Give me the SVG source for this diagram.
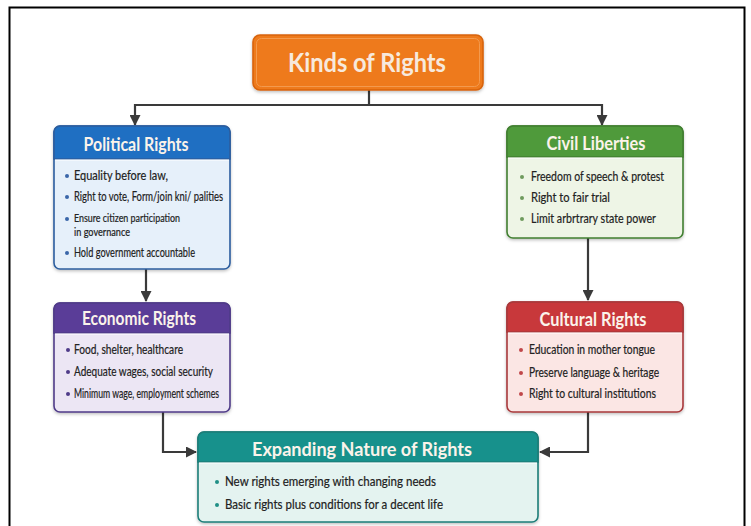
<svg xmlns="http://www.w3.org/2000/svg" width="751" height="526" viewBox="0 0 751 526">
<defs>
<marker id="ah" markerUnits="userSpaceOnUse" markerWidth="11" markerHeight="11" refX="10" refY="5.5" orient="auto">
<path d="M0,0 L11,5.5 L0,11 z" fill="#3a3a3a"/>
</marker>
<filter id="sh" x="-10%" y="-10%" width="120%" height="130%">
<feDropShadow dx="0" dy="1.5" stdDeviation="1.5" flood-color="#000" flood-opacity="0.25"/>
</filter>
<style>
.hd{font-family:Lato,"Open Sans",sans-serif;font-weight:bold;font-size:18px;fill:#fbf3ea;text-anchor:middle}
.it{font-family:Lato,"Open Sans",sans-serif;font-size:12.5px;fill:#222222;stroke:#222222;stroke-width:0.2}
.sm{font-size:10.5px}
.cn{fill:none;stroke:#3a3a3a;stroke-width:2.2}
</style>
</defs>
<rect x="0" y="0" width="751" height="526" fill="#ffffff"/>
<rect x="9.5" y="7.5" width="735" height="540" fill="#ffffff" stroke="#000" stroke-width="2"/>

<g id="connectors">
<path class="cn" d="M369,90 V105"/>
<path class="cn" d="M135,105 H602"/>
<path class="cn" d="M135,104 V125" marker-end="url(#ah)"/>
<path class="cn" d="M602,104 V125" marker-end="url(#ah)"/>
<path class="cn" d="M146,269 V301" marker-end="url(#ah)"/>
<path class="cn" d="M588,238 V300" marker-end="url(#ah)"/>
<path class="cn" d="M163,412 V452 H196" marker-end="url(#ah)"/>
<path class="cn" d="M588,412 V452 H540" marker-end="url(#ah)"/>
</g>

<g id="title">
<rect x="253" y="35" width="230" height="55" rx="7" fill="#ee7a1c" stroke="#d7630d" stroke-width="1.6" filter="url(#sh)"/>
<rect x="256.5" y="38.5" width="223" height="48" rx="5" fill="none" stroke="#f39a4e" stroke-width="1"/>
<text x="367" y="72" font-family="Lato,'Open Sans',sans-serif" font-weight="bold" font-size="27" fill="#f7e9dc" text-anchor="middle" textLength="158" lengthAdjust="spacingAndGlyphs">Kinds of Rights</text>
</g>

<g id="political">
<rect x="54" y="126" width="176" height="143" rx="6" fill="#e6f0fa" stroke="#2c5d9e" stroke-width="1.6" filter="url(#sh)"/>
<path d="M54,159 V132 a6,6 0 0 1 6,-6 H224 a6,6 0 0 1 6,6 V159 z" fill="#1f6fc2" stroke="#2c5d9e" stroke-width="1.6"/>
<line x1="55" y1="160" x2="229" y2="160" stroke="#ffffff" stroke-width="1"/>
<text class="hd" x="136" y="151" textLength="105" lengthAdjust="spacingAndGlyphs">Political Rights</text>
<g fill="#3a66a8">
<circle cx="67" cy="176" r="2"/><circle cx="67" cy="197" r="2"/><circle cx="67" cy="219" r="2"/><circle cx="67" cy="253" r="2"/>
</g>
<text class="it" x="74" y="180" textLength="94" lengthAdjust="spacingAndGlyphs">Equality before law,</text>
<text class="it" x="74" y="201" textLength="149" lengthAdjust="spacingAndGlyphs">Right to vote, Form/join kni/ palities</text>
<text class="it sm" x="74" y="222" textLength="106" lengthAdjust="spacingAndGlyphs">Ensure citizen participation</text>
<text class="it sm" x="74" y="236" textLength="56" lengthAdjust="spacingAndGlyphs">in governance</text>
<text class="it" x="74" y="257" textLength="121" lengthAdjust="spacingAndGlyphs">Hold government accountable</text>
</g>

<g id="economic">
<rect x="54" y="303" width="176" height="109" rx="6" fill="#ece6f4" stroke="#4f3b88" stroke-width="1.6" filter="url(#sh)"/>
<path d="M54,333 V309 a6,6 0 0 1 6,-6 H224 a6,6 0 0 1 6,6 V333 z" fill="#5a3d98" stroke="#4f3b88" stroke-width="1.6"/>
<line x1="55" y1="334" x2="229" y2="334" stroke="#ffffff" stroke-width="1"/>
<text class="hd" x="139" y="325" textLength="114" lengthAdjust="spacingAndGlyphs">Economic Rights</text>
<g fill="#4f3b88">
<circle cx="68" cy="350" r="2"/><circle cx="68" cy="372" r="2"/><circle cx="68" cy="394" r="2"/>
</g>
<text class="it" x="74" y="354" textLength="109" lengthAdjust="spacingAndGlyphs">Food, shelter, healthcare</text>
<text class="it" x="74" y="376" textLength="139" lengthAdjust="spacingAndGlyphs">Adequate wages, social security</text>
<text class="it" x="74" y="398" textLength="145" lengthAdjust="spacingAndGlyphs">Minimum wage, employment schemes</text>
</g>

<g id="civil">
<rect x="507" y="126" width="176" height="112" rx="6" fill="#eef5e6" stroke="#417f31" stroke-width="1.6" filter="url(#sh)"/>
<path d="M507,157 V132 a6,6 0 0 1 6,-6 H677 a6,6 0 0 1 6,6 V157 z" fill="#4f9a3b" stroke="#417f31" stroke-width="1.6"/>
<line x1="508" y1="158" x2="682" y2="158" stroke="#ffffff" stroke-width="1"/>
<text class="hd" x="596" y="150" textLength="99" lengthAdjust="spacingAndGlyphs">Civil Liberties</text>
<g fill="#6e9a5e">
<circle cx="522" cy="177" r="2"/><circle cx="522" cy="198" r="2"/><circle cx="522" cy="219" r="2"/>
</g>
<text class="it" x="531" y="181" textLength="133" lengthAdjust="spacingAndGlyphs">Freedom of speech &amp; protest</text>
<text class="it" x="531" y="202" textLength="79" lengthAdjust="spacingAndGlyphs">Right to fair trial</text>
<text class="it" x="531" y="223" textLength="125" lengthAdjust="spacingAndGlyphs">Limit arbrtrary state power</text>
</g>

<g id="cultural">
<rect x="507" y="302" width="176" height="110" rx="6" fill="#fbe6e4" stroke="#a8393b" stroke-width="1.6" filter="url(#sh)"/>
<path d="M507,332 V308 a6,6 0 0 1 6,-6 H677 a6,6 0 0 1 6,6 V332 z" fill="#c8383b" stroke="#a8393b" stroke-width="1.6"/>
<line x1="508" y1="333" x2="682" y2="333" stroke="#ffffff" stroke-width="1"/>
<text class="hd" x="593" y="326" textLength="107" lengthAdjust="spacingAndGlyphs">Cultural Rights</text>
<g fill="#c0474a">
<circle cx="521" cy="350" r="2"/><circle cx="521" cy="373" r="2"/><circle cx="521" cy="394" r="2"/>
</g>
<text class="it" x="529" y="354" textLength="126" lengthAdjust="spacingAndGlyphs">Education in mother tongue</text>
<text class="it" x="529" y="377" textLength="130" lengthAdjust="spacingAndGlyphs">Preserve language &amp; heritage</text>
<text class="it" x="529" y="398" textLength="127" lengthAdjust="spacingAndGlyphs">Right to cultural institutions</text>
</g>

<g id="expanding">
<rect x="198" y="432" width="340" height="90" rx="6" fill="#e4f3f0" stroke="#1d7d78" stroke-width="1.6" filter="url(#sh)"/>
<path d="M198,462 V438 a6,6 0 0 1 6,-6 H532 a6,6 0 0 1 6,6 V462 z" fill="#17918c" stroke="#1d7d78" stroke-width="1.6"/>
<line x1="199" y1="463" x2="537" y2="463" stroke="#ffffff" stroke-width="1"/>
<text class="hd" x="362" y="456" font-size="19" textLength="220" lengthAdjust="spacingAndGlyphs">Expanding Nature of Rights</text>
<g fill="#1f8f86">
<circle cx="217" cy="482" r="2"/><circle cx="217" cy="505" r="2"/>
</g>
<text class="it" x="225" y="486" textLength="211" lengthAdjust="spacingAndGlyphs">New rights emerging with changing needs</text>
<text class="it" x="225" y="509" textLength="218" lengthAdjust="spacingAndGlyphs">Basic rights plus conditions for a decent life</text>
</g>
</svg>
